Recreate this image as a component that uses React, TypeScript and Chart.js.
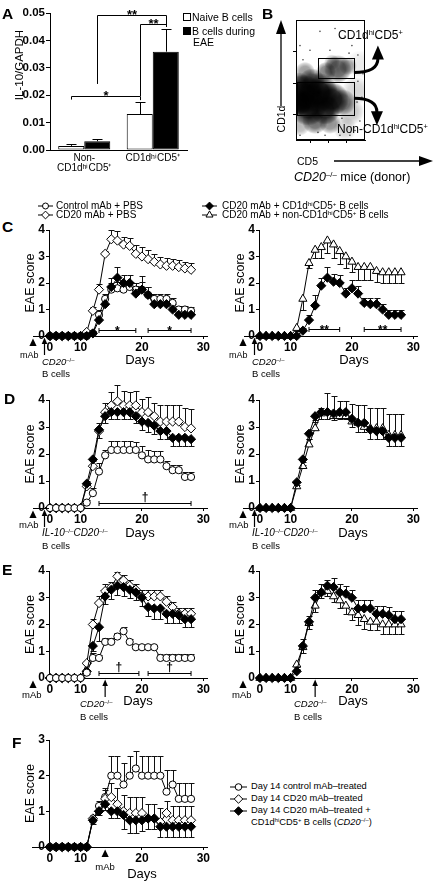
import React, { useEffect, useRef } from 'react';
import { Chart, registerables } from 'chart.js';

Chart.register(...registerables);

const FONT = '"Liberation Sans", Arial, Helvetica, sans-serif';

/* ===================== DATA ===================== */
// Panel A – IL-10/GAPDH
const A_CATEGORIES = [['Non-', 'CD1dʰⁱCD5⁺'], ['CD1dʰⁱCD5⁺']];
const A_SERIES_NAMES = ['Naive B cells', 'B cells during EAE'];
const A_NAIVE = [0.0015, 0.0131];
const A_NAIVE_ERR = [0.0007, 0.0046];
const A_EAE = [0.0032, 0.0359];
const A_EAE_ERR = [0.0007, 0.0081];
const A_Y_TICKS = [0, 0.01, 0.02, 0.03, 0.04, 0.05];
// brackets: [category, dataset] endpoints, bar level, leg ends
const A_BRACKETS = [
  { from: [0, 0], to: [1, 0], y: 0.0197, yFrom: 0.0184, yTo: 0.0182, label: '*' },
  { from: [1, 0], to: [1, 1], y: 0.046, yFrom: 0.0197, yTo: 0.0449, label: '**' },
  { from: [0, 1], to: [1, 1], y: 0.0493, yFrom: 0.0241, yTo: 0.0449, label: '**' },
];

// Panel B – flow cytometry (density blobs + sparse events, log-decade units)
const B_AXIS_TICKS = [1, 2, 3];
const B_DENSITY_X = [0.585, 1.41, 2.18, 0.86, 1.80, 0.42, 2.79, 1.25, 2.07, 0.37, 1.08, 2.51, 1.85, 3.06, 2.18, 0.70, 3.17, 3.50, 2.90, 3.72, 0.42];
const B_DENSITY_Y = [1.64, 1.70, 1.49, 1.22, 1.16, 1.40, 1.40, 0.80, 0.74, 2.00, 2.06, 2.45, 2.36, 2.54, 2.66, 2.36, 1.10, 1.76, 0.56, 2.60, 0.65];
const B_DENSITY_SPREAD = [20, 20, 17, 18, 15, 13, 13, 13, 11, 11, 13, 14, 10, 9, 8, 10, 14, 14, 12, 14, 10];
const B_DENSITY_LEVEL = [1.0, 1.0, 0.9, 0.95, 0.85, 0.9, 0.55, 0.6, 0.45, 0.6, 0.65, 0.65, 0.5, 0.35, 0.3, 0.4, 0.22, 0.16, 0.16, 0.08, 0.28];
const B_SPARSE_X = [3.61, 3.28, 2.90, 3.72, 3.45, 2.62, 1.80, 0.42, 3.83, 3.61, 3.12, 2.07, 0.97, 0.585, 3.56, 3.17, 1.41, 3.89, 2.73, 1.52, 0.42, 2.35];
const B_SPARSE_Y = [2.89, 3.19, 3.49, 0.80, 0.50, 0.35, 0.35, 0.35, 1.55, 2.06, 2.95, 3.04, 3.04, 2.74, 1.40, 0.35, 0.44, 2.30, 0.89, 3.64, 3.19, 3.73];
const B_GATE_HI = [1.41, 3.39, 2.15, 2.80]; // x1, x2, y1, y2
const B_GATE_NON = [0.25, 3.39, 0.98, 2.03];

// EAE time courses
const DAYS = [0, 2, 4, 6, 8, 10, 11, 12, 13, 14, 15, 16, 17, 18, 19, 20, 21, 22, 23, 24, 25, 26, 27, 28];
const X_TICK_DAYS = [0, 10, 20, 30];
const EAE_TICKS_4 = [0, 1, 2, 3, 4];
const EAE_TICKS_3 = [0, 1, 2, 3];

// C (left): CD20-/- B cells
const C1_CTRL = [0, 0, 0, 0, 0, 0, 0, 0.1, 0.8, 1.4, 1.75, 1.8, 1.75, 1.85, 1.75, 1.75, 1.55, 1.4, 1.4, 1.4, 1.25, 1.0, 1.0, 0.95];
const C1_CTRL_ERR = [0, 0, 0, 0, 0, 0, 0, 0.1, 0.2, 0.2, 0.25, 0.25, 0.2, 0.2, 0.25, 0.3, 0.3, 0.2, 0.2, 0.2, 0.2, 0.15, 0.15, 0.15];
const C1_PBS = [0, 0, 0, 0, 0, 0, 0.15, 0.95, 1.75, 3.1, 3.65, 3.6, 3.45, 3.4, 3.1, 3.0, 2.9, 2.8, 2.7, 2.65, 2.65, 2.6, 2.55, 2.5];
const C1_PBS_ERR = [0, 0, 0, 0, 0, 0, 0.05, 0.15, 0.2, 0.1, 0.35, 0.35, 0.3, 0.3, 0.35, 0.35, 0.35, 0.3, 0.3, 0.3, 0.25, 0.25, 0.25, 0.25];
const C1_HI = [0, 0, 0, 0, 0, 0, 0, 0.1, 0.6, 1.2, 1.85, 2.2, 2.0, 2.0, 1.6, 1.75, 1.55, 1.2, 1.2, 1.2, 1.0, 0.8, 0.8, 0.8];
const C1_HI_ERR = [0, 0, 0, 0, 0, 0, 0, 0.1, 0.15, 0.3, 0.35, 0.4, 0.3, 0.3, 0.3, 0.5, 0.3, 0.2, 0.25, 0.25, 0.2, 0.15, 0.15, 0.15];
const C1_BRACKETS = [{ from: 13, to: 19, y: 0.23, label: '*' }, { from: 21, to: 28, y: 0.23, label: '*' }];

// C (right)
const C2_NON = [0, 0, 0, 0, 0, 0, 0.3, 1.4, 2.75, 3.25, 3.35, 3.6, 3.45, 3.2, 3.0, 2.8, 2.6, 2.6, 2.6, 2.45, 2.4, 2.4, 2.4, 2.4];
const C2_NON_ERR = [0, 0, 0, 0, 0, 0, 0.1, 0.4, 0.2, 0.3, 0.4, 0.45, 0.5, 0.5, 0.45, 0.4, 0.5, 0.5, 0.5, 0.4, 0.4, 0.4, 0.4, 0.4];
const C2_HI = [0, 0, 0, 0, 0, 0, 0, 0.2, 0.6, 1.15, 1.9, 2.2, 2.05, 2.0, 1.6, 1.8, 1.6, 1.25, 1.2, 1.2, 1.0, 0.8, 0.8, 0.8];
const C2_HI_ERR = [0, 0, 0, 0, 0, 0, 0, 0.1, 0.2, 0.4, 0.3, 0.4, 0.3, 0.3, 0.2, 0.3, 0.3, 0.2, 0.25, 0.25, 0.2, 0.2, 0.2, 0.2];
const C2_BRACKETS = [{ from: 13, to: 18, y: 0.25, label: '**' }, { from: 22, to: 28, y: 0.25, label: '**' }];

// D (left): IL-10-/-CD20-/- B cells
const D1_CTRL = [0, 0, 0, 0, 0, 0, 0.2, 0.55, 1.35, 1.95, 2.15, 2.15, 2.15, 2.15, 2.15, 1.95, 1.8, 1.8, 1.8, 1.55, 1.4, 1.4, 1.15, 1.15];
const D1_CTRL_ERR = [0, 0, 0, 0, 0, 0, 0.1, 0.2, 0.3, 0.2, 0.35, 0.35, 0.35, 0.35, 0.3, 0.35, 0.35, 0.3, 0.3, 0.2, 0.2, 0.2, 0.2, 0.2];
const D1_PBS = [0, 0, 0, 0, 0, 0, 0.8, 1.55, 2.85, 3.55, 3.8, 3.95, 3.8, 3.8, 3.8, 3.55, 3.55, 3.4, 3.2, 3.2, 3.2, 3.2, 3.0, 2.95];
const D1_PBS_ERR = [0, 0, 0, 0, 0, 0, 0.2, 0.2, 0.3, 0.35, 0.5, 0.6, 0.55, 0.5, 0.55, 0.5, 0.55, 0.5, 0.6, 0.6, 0.6, 0.6, 0.7, 0.7];
const D1_HI = [0, 0, 0, 0, 0, 0, 0.9, 1.8, 2.9, 3.4, 3.55, 3.55, 3.55, 3.55, 3.4, 3.2, 3.15, 3.05, 2.85, 2.85, 2.6, 2.6, 2.6, 2.55];
const D1_HI_ERR = [0, 0, 0, 0, 0, 0, 0.1, 0.2, 0.3, 0.25, 0.25, 0.25, 0.25, 0.25, 0.25, 0.3, 0.35, 0.3, 0.3, 0.3, 0.3, 0.3, 0.3, 0.25];
const D1_BRACKETS = [{ from: 13, to: 28, y: 0.2, label: '†' }];

// D (right)
const D2_HI = [0, 0, 0, 0, 0, 0, 0.95, 1.8, 2.75, 3.4, 3.55, 3.55, 3.5, 3.55, 3.55, 3.3, 3.15, 3.15, 2.9, 2.85, 2.85, 2.6, 2.6, 2.6];
const D2_HI_ERR = [0, 0, 0, 0, 0, 0, 0.1, 0.2, 0.2, 0.2, 0.25, 0.25, 0.25, 0.25, 0.25, 0.3, 0.35, 0.35, 0.35, 0.3, 0.3, 0.3, 0.3, 0.3];
const D2_NON = [0, 0, 0, 0, 0, 0, 0.8, 1.55, 2.35, 2.95, 3.5, 3.55, 3.4, 3.4, 3.4, 3.2, 3.15, 3.0, 2.95, 2.95, 2.95, 2.7, 2.7, 2.7];
const D2_NON_ERR = [0, 0, 0, 0, 0, 0, 0.2, 0.15, 0.2, 0.3, 0.2, 0.7, 0.75, 0.55, 0.55, 0.65, 0.65, 0.8, 0.75, 0.75, 0.75, 0.8, 0.8, 0.8];

// E (left): transfer on day 14
const E1_PBS = [0, 0, 0, 0, 0, 0, 0.55, 2.0, 2.8, 3.25, 3.4, 3.8, 3.65, 3.45, 3.3, 3.05, 3.05, 3.05, 3.05, 2.85, 2.65, 2.4, 2.4, 2.4];
const E1_PBS_ERR = [0, 0, 0, 0, 0, 0, 0.1, 0.2, 0.25, 0.25, 0.2, 0.15, 0.2, 0.2, 0.2, 0.25, 0.25, 0.25, 0.25, 0.2, 0.2, 0.2, 0.2, 0.2];
const E1_HI = [0, 0, 0, 0, 0, 0, 0.25, 1.2, 1.9, 3.05, 3.3, 3.45, 3.4, 3.3, 3.2, 3.0, 2.65, 2.6, 2.6, 2.4, 2.4, 2.35, 2.2, 2.2];
const E1_HI_ERR = [0, 0, 0, 0, 0, 0, 0.1, 0.2, 0.5, 0.3, 0.35, 0.35, 0.35, 0.3, 0.3, 0.3, 0.35, 0.4, 0.4, 0.35, 0.35, 0.3, 0.3, 0.3];
const E1_CTRL = [0, 0, 0, 0, 0, 0, 0.2, 0.75, 0.75, 1.35, 1.35, 1.55, 1.75, 1.35, 1.15, 1.15, 1.15, 1.15, 0.75, 0.75, 0.75, 0.75, 0.75, 0.75];
const E1_CTRL_ERR = [0, 0, 0, 0, 0, 0, 0.1, 0.2, 0.1, 0.15, 0.15, 0.15, 0.15, 0.1, 0.1, 0.1, 0.1, 0.1, 0.15, 0.15, 0.15, 0.15, 0.15, 0.15];
const E1_BRACKETS = [{ from: 13, to: 19.5, y: 0.2, label: '†' }, { from: 21, to: 28, y: 0.2, label: '†' }];

// E (right)
const E2_HI = [0, 0, 0, 0, 0, 0, 0.25, 1.2, 2.1, 3.0, 3.2, 3.45, 3.4, 3.2, 3.15, 3.0, 2.6, 2.6, 2.6, 2.4, 2.4, 2.35, 2.2, 2.2];
const E2_HI_ERR = [0, 0, 0, 0, 0, 0, 0.1, 0.25, 0.2, 0.3, 0.3, 0.2, 0.35, 0.3, 0.3, 0.3, 0.3, 0.3, 0.3, 0.3, 0.3, 0.3, 0.3, 0.3];
const E2_NON = [0, 0, 0, 0, 0, 0, 0.5, 1.15, 2.05, 2.7, 3.2, 3.25, 3.05, 2.9, 2.7, 2.45, 2.35, 2.2, 2.1, 2.1, 2.0, 2.0, 2.0, 2.0];
const E2_NON_ERR = [0, 0, 0, 0, 0, 0, 0.1, 0.2, 0.2, 0.25, 0.2, 0.2, 0.2, 0.3, 0.3, 0.3, 0.35, 0.35, 0.3, 0.3, 0.35, 0.35, 0.35, 0.35];

// F: mAb on day 14
const F_CTRL = [0, 0, 0, 0, 0, 0, 0, 0.75, 1.15, 1.4, 2.0, 2.0, 1.75, 2.0, 2.2, 2.0, 2.0, 2.0, 2.0, 1.55, 1.75, 1.35, 1.35, 1.35];
const F_CTRL_ERR = [0, 0, 0, 0, 0, 0, 0, 0.1, 0.15, 0.25, 0.55, 0.55, 0.6, 0.55, 0.5, 0.55, 0.55, 0.55, 0.55, 0.6, 0.4, 0.45, 0.45, 0.45];
const F_CD20 = [0, 0, 0, 0, 0, 0, 0, 0.8, 1.0, 1.35, 1.4, 1.2, 1.0, 0.95, 0.95, 0.95, 0.8, 0.8, 0.7, 0.95, 0.75, 0.75, 0.75, 0.75];
const F_CD20_ERR = [0, 0, 0, 0, 0, 0, 0, 0.1, 0.1, 0.25, 0.4, 0.45, 0.45, 0.45, 0.45, 0.45, 0.4, 0.4, 0.4, 0.35, 0.4, 0.4, 0.4, 0.4];
const F_HI = [0, 0, 0, 0, 0, 0, 0, 0.75, 1.0, 1.2, 1.0, 1.0, 0.9, 0.75, 0.75, 0.75, 0.8, 0.8, 0.57, 0.57, 0.57, 0.57, 0.57, 0.57];
const F_HI_ERR = [0, 0, 0, 0, 0, 0, 0, 0.1, 0.1, 0.15, 0.2, 0.2, 0.4, 0.37, 0.37, 0.3, 0.3, 0.3, 0.28, 0.28, 0.28, 0.28, 0.28, 0.28];

/* ===================== HELPERS ===================== */
// the x axis of the time courses is compressed (half scale) from day 0 to day 10
const dayToAxis = (d: number) => (d <= 10 ? d / 2 : d - 5);

const MARKERS: any = {
  circle: { style: 'circle', r: 3.6, fill: '#fff' },
  diamond: { style: 'rectRot', r: 4.6, fill: '#fff' },
  filledDiamond: { style: 'rectRot', r: 4.6, fill: '#000' },
  triangle: { style: 'triangle', r: 4.7, fill: '#fff' },
};

const YW = 34, PT = 22, PR = 10, XH = 26;

function EaeChart({ area, yMax, yTicks, series, brackets = [], mAb, transfer, axisExt }: any) {
  const ref = useRef<HTMLCanvasElement>(null);
  const [aL, aT, aR, aB] = area;
  const W = aR - aL + YW + PR;
  const H = aB - aT + PT + XH;
  useEffect(() => {
    const extras = {
      id: 'eaeExtras',
      beforeDatasetsDraw(chart: any) {
        const { ctx } = chart;
        const ys = chart.scales.y;
        ctx.save();
        ctx.strokeStyle = '#111';
        ctx.lineWidth = 1;
        chart.data.datasets.forEach((ds: any, di: number) => {
          const meta = chart.getDatasetMeta(di);
          meta.data.forEach((pt: any, i: number) => {
            const e = ds.errs[i];
            if (!e) return;
            const y2 = Math.round(ys.getPixelForValue(ds.data[i].y + ds.errDir * e)) + 0.5;
            const x = Math.round(pt.x) + 0.5;
            ctx.beginPath();
            ctx.moveTo(x, pt.y);
            ctx.lineTo(x, y2);
            ctx.moveTo(x - 3, y2);
            ctx.lineTo(x + 3, y2);
            ctx.stroke();
          });
        });
        ctx.restore();
      },
      afterDraw(chart: any) {
        const { ctx, chartArea: ca } = chart;
        const xs = chart.scales.x;
        const ys = chart.scales.y;
        ctx.save();
        ctx.strokeStyle = '#000';
        ctx.fillStyle = '#000';
        ctx.lineWidth = 1;
        const by = Math.round(ca.bottom - 0.5) + 0.5;
        if (axisExt) {
          ctx.beginPath();
          ctx.moveTo(ca.left - axisExt, by);
          ctx.lineTo(ca.left, by);
          ctx.stroke();
        }
        ctx.font = `bold 12px ${FONT}`;
        ctx.textAlign = 'center';
        ctx.textBaseline = 'alphabetic';
        brackets.forEach((b: any) => {
          const x1 = xs.getPixelForValue(dayToAxis(b.from));
          const x2 = xs.getPixelForValue(dayToAxis(b.to));
          const y = Math.round(ys.getPixelForValue(b.y)) + 0.5;
          ctx.beginPath();
          ctx.moveTo(x1, y);
          ctx.lineTo(x2, y);
          ctx.moveTo(x1, y - 2.5);
          ctx.lineTo(x1, y + 2.5);
          ctx.moveTo(x2, y - 2.5);
          ctx.lineTo(x2, y + 2.5);
          ctx.stroke();
          const ty = b.label.indexOf('*') >= 0 ? y + 4 : y - 2.5;
          ctx.fillText(b.label, (x1 + x2) / 2, ty);
        });
        const bt = ca.bottom;
        if (mAb != null) {
          const mx = mAb === 'pre' ? ca.left - 16 : xs.getPixelForValue(dayToAxis(mAb));
          ctx.beginPath();
          ctx.moveTo(mx, bt + 2.5);
          ctx.lineTo(mx - 3.6, bt + 10);
          ctx.lineTo(mx + 3.6, bt + 10);
          ctx.closePath();
          ctx.fill();
        }
        if (transfer != null) {
          const tx = transfer === 'pre' ? ca.left - 4.5 : xs.getPixelForValue(dayToAxis(transfer));
          ctx.lineWidth = 1.2;
          ctx.beginPath();
          ctx.moveTo(tx, bt + 6);
          ctx.lineTo(tx, bt + 19);
          ctx.stroke();
          ctx.beginPath();
          ctx.moveTo(tx, bt + 1.5);
          ctx.lineTo(tx - 2.8, bt + 8);
          ctx.lineTo(tx + 2.8, bt + 8);
          ctx.closePath();
          ctx.fill();
        }
        ctx.restore();
      },
    };
    const datasets = series.map((s: any) => {
      const m = MARKERS[s.marker];
      return {
        label: s.label,
        data: DAYS.map((d, i) => ({ x: dayToAxis(d), y: s.values[i] })),
        errs: s.errs,
        errDir: s.dir,
        borderColor: '#000',
        borderWidth: 1,
        backgroundColor: m.fill,
        pointStyle: m.style,
        pointRadius: m.r,
        pointBackgroundColor: m.fill,
        pointBorderColor: '#000',
        pointBorderWidth: 1,
        tension: 0,
        clip: false,
      };
    });
    const tickFont = { family: FONT, size: 12, weight: 'bold' };
    const chart = new Chart(ref.current as any, {
      type: 'line',
      data: { datasets },
      options: {
        animation: false,
        responsive: false,
        maintainAspectRatio: false,
        events: [],
        layout: { padding: { top: PT, right: PR, left: 0, bottom: 0 } },
        plugins: { legend: { display: false }, tooltip: { enabled: false } },
        scales: {
          x: {
            type: 'linear',
            min: -0.15,
            max: 25.6,
            afterFit: (s: any) => { s.height = XH; },
            afterBuildTicks: (s: any) => { s.ticks = X_TICK_DAYS.map((d) => ({ value: dayToAxis(d) })); },
            ticks: {
              autoSkip: false,
              maxRotation: 0,
              padding: 1,
              color: '#000',
              font: tickFont,
              callback: (v: any) => {
                const d = X_TICK_DAYS.find((dd) => Math.abs(dayToAxis(dd) - v) < 1e-6);
                return d === undefined ? '' : String(d);
              },
            },
            grid: { drawOnChartArea: false, drawTicks: true, tickLength: 3, color: '#000' },
            border: { display: true, color: '#000', width: 1 },
          },
          y: {
            type: 'linear',
            min: 0,
            max: yMax,
            afterFit: (s: any) => { s.width = YW; },
            afterBuildTicks: (s: any) => { s.ticks = yTicks.map((v: number) => ({ value: v })); },
            ticks: { padding: 1, color: '#000', font: tickFont },
            grid: { drawOnChartArea: false, drawTicks: true, tickLength: 3, color: '#000' },
            border: { display: true, color: '#000', width: 1 },
            title: { display: true, text: 'EAE score', color: '#000', font: { family: FONT, size: 12.5 }, padding: { top: 8, bottom: 0 } },
          },
        },
      } as any,
      plugins: [extras],
    });
    return () => chart.destroy();
  }, []);
  return (
    <canvas
      ref={ref}
      width={W}
      height={H}
      style={{ position: 'absolute', left: aL - YW, top: aT - PT, width: W, height: H, display: 'block' }}
    />
  );
}

function BarChartA() {
  const ref = useRef<HTMLCanvasElement>(null);
  const L = 0, T = 0, W = 189, H = 175;
  useEffect(() => {
    const extras = {
      id: 'aExtras',
      afterDatasetsDraw(chart: any) {
        const { ctx } = chart;
        const ys = chart.scales.y;
        ctx.save();
        ctx.strokeStyle = '#000';
        ctx.fillStyle = '#000';
        ctx.lineWidth = 1;
        chart.data.datasets.forEach((ds: any, di: number) => {
          chart.getDatasetMeta(di).data.forEach((bar: any, i: number) => {
            const top = Math.round(ys.getPixelForValue(ds.data[i] + ds.errs[i])) + 0.5;
            const x = Math.round(bar.x) + 0.5;
            ctx.beginPath();
            ctx.moveTo(x, bar.y);
            ctx.lineTo(x, top);
            ctx.moveTo(x - 5, top);
            ctx.lineTo(x + 5, top);
            ctx.stroke();
          });
        });
        ctx.font = `bold 13px ${FONT}`;
        ctx.textAlign = 'center';
        ctx.textBaseline = 'alphabetic';
        A_BRACKETS.forEach((b) => {
          const x1 = Math.round(chart.getDatasetMeta(b.from[1]).data[b.from[0]].x) + 0.5;
          const x2 = Math.round(chart.getDatasetMeta(b.to[1]).data[b.to[0]].x) + 0.5;
          const y = Math.round(ys.getPixelForValue(b.y)) + 0.5;
          ctx.beginPath();
          ctx.moveTo(x1, ys.getPixelForValue(b.yFrom));
          ctx.lineTo(x1, y);
          ctx.lineTo(x2, y);
          ctx.lineTo(x2, ys.getPixelForValue(b.yTo));
          ctx.stroke();
          ctx.fillText(b.label, (x1 + x2) / 2, y + 3);
        });
        ctx.restore();
      },
    };
    const chart = new Chart(ref.current as any, {
      type: 'bar',
      data: {
        labels: A_CATEGORIES as any,
        datasets: [
          { label: A_SERIES_NAMES[0], data: A_NAIVE, errs: A_NAIVE_ERR, backgroundColor: '#fff', borderColor: '#000', borderWidth: 1, borderSkipped: false } as any,
          { label: A_SERIES_NAMES[1], data: A_EAE, errs: A_EAE_ERR, backgroundColor: '#000', borderColor: '#000', borderWidth: 1, borderSkipped: false } as any,
        ],
      },
      options: {
        animation: false,
        responsive: false,
        maintainAspectRatio: false,
        events: [],
        layout: { padding: { top: 13, right: 2, left: 0, bottom: 0 } },
        plugins: { legend: { display: false }, tooltip: { enabled: false } },
        datasets: { bar: { categoryPercentage: 0.76, barPercentage: 1 } },
        scales: {
          x: {
            afterFit: (s: any) => { s.height = 25; },
            grid: { display: false, drawTicks: false },
            border: { display: true, color: '#000', width: 1 },
            ticks: { autoSkip: false, maxRotation: 0, padding: 3, color: '#000', font: { family: FONT, size: 10, lineHeight: 1 } },
          },
          y: {
            min: 0,
            max: 0.05,
            afterFit: (s: any) => { s.width = 50; },
            afterBuildTicks: (s: any) => { s.ticks = A_Y_TICKS.map((v) => ({ value: v })); },
            ticks: { padding: 1, color: '#000', font: { family: FONT, size: 11.5, weight: 'bold' }, callback: (v: any) => Number(v).toFixed(2) },
            grid: { drawOnChartArea: false, drawTicks: true, tickLength: 4, color: '#000' },
            border: { display: true, color: '#000', width: 1 },
          },
        },
      } as any,
      plugins: [extras],
    });
    return () => chart.destroy();
  }, []);
  return <canvas ref={ref} width={W} height={H} style={{ position: 'absolute', left: L, top: T, width: W, height: H, display: 'block' }} />;
}

function FlowChartB() {
  const ref = useRef<HTMLCanvasElement>(null);
  const L = 265, T = 0, W = 174, H = 170;
  useEffect(() => {
    const extras = {
      id: 'bExtras',
      afterDatasetsDraw(chart: any) {
        const { ctx, chartArea: ca } = chart;
        const xs = chart.scales.x;
        const ys = chart.scales.y;
        ctx.save();
        ctx.strokeStyle = '#000';
        ctx.fillStyle = '#000';
        ctx.lineWidth = 1;
        ctx.strokeRect(Math.round(ca.left) + 0.5, Math.round(ca.top) + 0.5, Math.round(ca.right - ca.left) - 1, Math.round(ca.bottom - ca.top) - 1);
        [B_GATE_HI, B_GATE_NON].forEach((g) => {
          const x1 = Math.round(xs.getPixelForValue(g[0])) + 0.5;
          const x2 = Math.round(xs.getPixelForValue(g[1])) + 0.5;
          const y1 = Math.round(ys.getPixelForValue(g[3])) + 0.5;
          const y2 = Math.round(ys.getPixelForValue(g[2])) + 0.5;
          ctx.strokeRect(x1, y1, x2 - x1, y2 - y1);
        });
        // curved arrows from the gates
        const gx = xs.getPixelForValue(B_GATE_HI[1]);
        const gyB = ys.getPixelForValue(B_GATE_HI[2]);
        ctx.lineWidth = 3;
        ctx.beginPath();
        ctx.moveTo(gx, gyB - 6);
        ctx.quadraticCurveTo(gx + 24, gyB - 6, gx + 24, gyB - 20);
        ctx.stroke();
        ctx.beginPath();
        ctx.moveTo(gx + 24, gyB - 33);
        ctx.lineTo(gx + 18, gyB - 19);
        ctx.lineTo(gx + 30, gyB - 19);
        ctx.closePath();
        ctx.fill();
        const gx2 = xs.getPixelForValue(B_GATE_NON[1]);
        const gyT = ys.getPixelForValue(B_GATE_NON[3]);
        ctx.beginPath();
        ctx.moveTo(gx2, gyT + 16);
        ctx.quadraticCurveTo(gx2 + 23, gyT + 16, gx2 + 23, gyT + 30);
        ctx.stroke();
        ctx.beginPath();
        ctx.moveTo(gx2 + 23, gyT + 43);
        ctx.lineTo(gx2 + 17, gyT + 29);
        ctx.lineTo(gx2 + 29, gyT + 29);
        ctx.closePath();
        ctx.fill();
        // axis arrows
        ctx.lineWidth = 1.3;
        const ax = ca.left - 15;
        ctx.beginPath();
        ctx.moveTo(ax, ca.top + 86);
        ctx.lineTo(ax, ca.top + 10);
        ctx.stroke();
        ctx.beginPath();
        ctx.moveTo(ax, ca.top);
        ctx.lineTo(ax - 5, ca.top + 14);
        ctx.lineTo(ax + 5, ca.top + 14);
        ctx.closePath();
        ctx.fill();
        const ay = ca.bottom + 21;
        ctx.beginPath();
        ctx.moveTo(ca.left + 38, ay);
        ctx.lineTo(ca.right + 57, ay);
        ctx.stroke();
        ctx.beginPath();
        ctx.moveTo(ca.right + 68, ay);
        ctx.lineTo(ca.right + 54, ay - 5);
        ctx.lineTo(ca.right + 54, ay + 5);
        ctx.closePath();
        ctx.fill();
        ctx.restore();
      },
    };
    const blobFill = (c: any) => {
      const fallback = 'rgba(0,0,0,0.4)';
      const raw = c && c.raw;
      const chart = c && c.chart;
      if (!raw || !chart || !chart.scales || !chart.scales.x || !chart.scales.y) return fallback;
      const px = chart.scales.x.getPixelForValue(raw.x);
      const py = chart.scales.y.getPixelForValue(raw.y);
      const r = raw.r;
      const a = B_DENSITY_LEVEL[c.dataIndex];
      if (![px, py, r, a].every((v) => Number.isFinite(v)) || r <= 0) return fallback;
      const g = chart.ctx.createRadialGradient(px, py, 0, px, py, r);
      g.addColorStop(0, `rgba(0,0,0,${a})`);
      g.addColorStop(0.55, `rgba(0,0,0,${a * 0.85})`);
      g.addColorStop(0.85, `rgba(0,0,0,${a * 0.35})`);
      g.addColorStop(1, 'rgba(0,0,0,0)');
      return g;
    };
    const chart = new Chart(ref.current as any, {
      type: 'bubble',
      data: {
        datasets: [
          {
            label: 'B cells (density)',
            data: B_DENSITY_X.map((x, i) => ({ x, y: B_DENSITY_Y[i], r: B_DENSITY_SPREAD[i] })),
            borderWidth: 0,
            clip: 0,
            backgroundColor: blobFill,
          } as any,
          {
            label: 'B cells (sparse)',
            data: B_SPARSE_X.map((x, i) => ({ x, y: B_SPARSE_Y[i], r: 0.8 })),
            borderWidth: 0,
            clip: 0,
            backgroundColor: 'rgba(0,0,0,0.75)',
          } as any,
        ],
      },
      options: {
        animation: false,
        responsive: false,
        maintainAspectRatio: false,
        events: [],
        layout: { padding: { top: 13, right: 74, left: 0, bottom: 0 } },
        plugins: { legend: { display: false }, tooltip: { enabled: false } },
        scales: {
          x: {
            type: 'linear', min: 0.2, max: 4,
            afterFit: (s: any) => { s.height = 30; },
            afterBuildTicks: (s: any) => { s.ticks = B_AXIS_TICKS.map((v) => ({ value: v })); },
            ticks: { display: false },
            grid: { drawOnChartArea: false, drawTicks: true, tickLength: 3, color: '#000' },
            border: { display: true, color: '#000' },
          },
          y: {
            type: 'linear', min: 0.2, max: 4,
            afterFit: (s: any) => { s.width = 31; },
            afterBuildTicks: (s: any) => { s.ticks = B_AXIS_TICKS.map((v) => ({ value: v })); },
            ticks: { display: false },
            grid: { drawOnChartArea: false, drawTicks: true, tickLength: 3, color: '#000' },
            border: { display: true, color: '#000' },
          },
        },
      } as any,
      plugins: [extras],
    });
    return () => chart.destroy();
  }, []);
  return <canvas ref={ref} width={W} height={H} style={{ position: 'absolute', left: L, top: T, width: W, height: H, display: 'block' }} />;
}

/* ===================== TEXT HELPERS ===================== */
function Txt({ x, y, size = 10, bold = false, italic = false, anchor = 'start', rot = 0, children }: any) {
  const tx = anchor === 'middle' ? -50 : anchor === 'end' ? -100 : 0;
  return (
    <div
      style={{
        position: 'absolute', left: x, top: y, fontFamily: FONT, fontSize: size,
        fontWeight: bold ? 700 : 400, fontStyle: italic ? 'italic' : 'normal',
        lineHeight: 1, whiteSpace: 'nowrap', color: '#000',
        transform: rot ? `translate(-50%, -50%) rotate(${rot}deg)` : `translate(${tx}%, -50%)`,
      }}
    >
      {children}
    </div>
  );
}
const Sup = ({ children }: any) => <span style={{ fontSize: '0.62em', position: 'relative', top: '-0.5em' }}>{children}</span>;
const It = ({ children }: any) => <span style={{ fontStyle: 'italic' }}>{children}</span>;
const HiLabel = () => (<>CD1d<Sup>hi</Sup>CD5<Sup>+</Sup></>);
const KO = ({ g }: any) => (<><It>{g}</It><Sup>–/–</Sup></>);

function Mark({ x, y, w, kind, r = 3 }: any) {
  const c = w / 2, m = 6;
  let shape: any;
  if (kind === 'circle') shape = <circle cx={c} cy={m} r={r} fill="#fff" stroke="#000" strokeWidth={1} />;
  else if (kind === 'diamond' || kind === 'filledDiamond') {
    const d = r * 1.3;
    shape = <polygon points={`${c},${m - d} ${c + d},${m} ${c},${m + d} ${c - d},${m}`} fill={kind === 'diamond' ? '#fff' : '#000'} stroke="#000" strokeWidth={1} />;
  } else {
    const d = r * 1.35;
    shape = <polygon points={`${c},${m - d} ${c + d * 0.866},${m + d * 0.5} ${c - d * 0.866},${m + d * 0.5}`} fill="#fff" stroke="#000" strokeWidth={1} />;
  }
  return (
    <svg style={{ position: 'absolute', left: x, top: y - m, overflow: 'visible' }} width={w} height={12}>
      <line x1={0} y1={m} x2={w} y2={m} stroke="#000" strokeWidth={1} />
      {shape}
    </svg>
  );
}

/* ===================== PANEL LAYOUT ===================== */
const PANELS: any[] = [
  { key: 'C1', area: [49, 230, 207, 336], yMax: 4, yTicks: EAE_TICKS_4, mAb: 'pre', transfer: 'pre', axisExt: 16, brackets: C1_BRACKETS,
    series: [
      { label: 'CD20 mAb + CD1dhiCD5+ B cells', values: C1_HI, errs: C1_HI_ERR, dir: 1, marker: 'filledDiamond' },
      { label: 'Control mAb + PBS', values: C1_CTRL, errs: C1_CTRL_ERR, dir: 1, marker: 'circle' },
      { label: 'CD20 mAb + PBS', values: C1_PBS, errs: C1_PBS_ERR, dir: 1, marker: 'diamond' },
    ] },
  { key: 'C2', area: [259, 230, 417, 336], yMax: 4, yTicks: EAE_TICKS_4, mAb: 'pre', transfer: 'pre', axisExt: 15, brackets: C2_BRACKETS,
    series: [
      { label: 'CD20 mAb + CD1dhiCD5+ B cells', values: C2_HI, errs: C2_HI_ERR, dir: 1, marker: 'filledDiamond' },
      { label: 'CD20 mAb + non-CD1dhiCD5+ B cells', values: C2_NON, errs: C2_NON_ERR, dir: -1, marker: 'triangle' },
    ] },
  { key: 'D1', area: [49, 400, 207, 508], yMax: 4, yTicks: EAE_TICKS_4, mAb: 'pre', transfer: 'pre', axisExt: 16, brackets: D1_BRACKETS,
    series: [
      { label: 'Control mAb + PBS', values: D1_CTRL, errs: D1_CTRL_ERR, dir: 1, marker: 'circle' },
      { label: 'CD20 mAb + CD1dhiCD5+ B cells', values: D1_HI, errs: D1_HI_ERR, dir: -1, marker: 'filledDiamond' },
      { label: 'CD20 mAb + PBS', values: D1_PBS, errs: D1_PBS_ERR, dir: 1, marker: 'diamond' },
    ] },
  { key: 'D2', area: [259, 400, 417, 508], yMax: 4, yTicks: EAE_TICKS_4, mAb: 'pre', transfer: 'pre', axisExt: 16, brackets: [],
    series: [
      { label: 'CD20 mAb + CD1dhiCD5+ B cells', values: D2_HI, errs: D2_HI_ERR, dir: -1, marker: 'filledDiamond' },
      { label: 'CD20 mAb + non-CD1dhiCD5+ B cells', values: D2_NON, errs: D2_NON_ERR, dir: 1, marker: 'triangle' },
    ] },
  { key: 'E1', area: [49, 571, 207, 678], yMax: 4, yTicks: EAE_TICKS_4, mAb: 'pre', transfer: 14, axisExt: 0, brackets: E1_BRACKETS,
    series: [
      { label: 'Control mAb + PBS', values: E1_CTRL, errs: E1_CTRL_ERR, dir: 1, marker: 'circle' },
      { label: 'CD20 mAb + CD1dhiCD5+ B cells', values: E1_HI, errs: E1_HI_ERR, dir: -1, marker: 'filledDiamond' },
      { label: 'CD20 mAb + PBS', values: E1_PBS, errs: E1_PBS_ERR, dir: 1, marker: 'diamond' },
    ] },
  { key: 'E2', area: [259, 571, 417, 678], yMax: 4, yTicks: EAE_TICKS_4, mAb: 'pre', transfer: 14, axisExt: 0, brackets: [],
    series: [
      { label: 'CD20 mAb + CD1dhiCD5+ B cells', values: E2_HI, errs: E2_HI_ERR, dir: 1, marker: 'filledDiamond' },
      { label: 'CD20 mAb + non-CD1dhiCD5+ B cells', values: E2_NON, errs: E2_NON_ERR, dir: -1, marker: 'triangle' },
    ] },
  { key: 'F', area: [49, 740, 207, 847], yMax: 3, yTicks: EAE_TICKS_3, mAb: 14, transfer: null, axisExt: 17, brackets: [],
    series: [
      { label: 'Day 14 CD20 mAb-treated + CD1dhiCD5+ B cells', values: F_HI, errs: F_HI_ERR, dir: -1, marker: 'filledDiamond' },
      { label: 'Day 14 CD20 mAb-treated', values: F_CD20, errs: F_CD20_ERR, dir: 1, marker: 'diamond' },
      { label: 'Day 14 control mAb-treated', values: F_CTRL, errs: F_CTRL_ERR, dir: 1, marker: 'circle' },
    ] },
];

export default function App() {
  return (
    <div style={{ position: 'absolute', left: 0, top: 0, width: 439, height: 889, background: '#fff', overflow: 'hidden' }}>
      <BarChartA />
      <FlowChartB />
      {PANELS.map((p) => (
        <EaeChart key={p.key} area={p.area} yMax={p.yMax} yTicks={p.yTicks} series={p.series} brackets={p.brackets} mAb={p.mAb} transfer={p.transfer} axisExt={p.axisExt} />
      ))}

      {/* panel letters */}
      <Txt x={2} y={14} size={15.5} bold>A</Txt>
      <Txt x={262} y={14} size={15.5} bold>B</Txt>
      <Txt x={2} y={227} size={15.5} bold>C</Txt>
      <Txt x={4} y={399} size={15.5} bold>D</Txt>
      <Txt x={2} y={570} size={15.5} bold>E</Txt>
      <Txt x={12} y={743} size={15.5} bold>F</Txt>

      {/* A */}
      <Txt x={20} y={65} size={11.5} rot={-90}>IL-10/GAPDH</Txt>
      <div style={{ position: 'absolute', left: 183, top: 13, width: 8, height: 8, border: '1px solid #000', background: '#fff', boxSizing: 'border-box' }} />
      <div style={{ position: 'absolute', left: 183, top: 27, width: 8, height: 8, background: '#000' }} />
      <Txt x={192} y={17} size={10.5}>Naive B cells</Txt>
      <Txt x={192} y={30.5} size={10.5}>B cells during</Txt>
      <Txt x={193} y={42} size={10.5}>EAE</Txt>

      {/* B */}
      <Txt x={338} y={35} size={12}><HiLabel /></Txt>
      <Txt x={337} y={129} size={12}>Non-<HiLabel /></Txt>
      <Txt x={281} y={119} size={10.5} rot={-90}>CD1d</Txt>
      <Txt x={297} y={161} size={10.5}>CD5</Txt>
      <Txt x={294} y={177} size={12.5}><KO g="CD20" /> mice (donor)</Txt>

      {/* C legend */}
      <Mark x={38} y={206} w={15} kind="circle" />
      <Txt x={56} y={206} size={10}>Control mAb + PBS</Txt>
      <Mark x={38} y={215} w={15} kind="diamond" />
      <Txt x={56} y={215} size={10}>CD20 mAb + PBS</Txt>
      <Mark x={202} y={206} w={15} kind="filledDiamond" />
      <Txt x={222} y={206} size={10}>CD20 mAb + <HiLabel /> B cells</Txt>
      <Mark x={202} y={215} w={15} kind="triangle" />
      <Txt x={222} y={215} size={10}>CD20 mAb + non-<HiLabel /> B cells</Txt>

      {/* C annotations */}
      <Txt x={20} y={355} size={9}>mAb</Txt>
      <Txt x={42} y={362} size={9.5}><KO g="CD20" /></Txt>
      <Txt x={42} y={374} size={9.5}>B cells</Txt>
      <Txt x={140} y={359} size={13} anchor="middle">Days</Txt>
      <Txt x={229} y={355} size={9}>mAb</Txt>
      <Txt x={252} y={362} size={9.5}><KO g="CD20" /></Txt>
      <Txt x={252} y={374} size={9.5}>B cells</Txt>
      <Txt x={354} y={359} size={13} anchor="middle">Days</Txt>

      {/* D annotations */}
      <Txt x={19} y={525} size={9.5}>mAb</Txt>
      <Txt x={42} y={533} size={10}><KO g="IL-10" /><KO g="CD20" /></Txt>
      <Txt x={42} y={546} size={9.5}>B cells</Txt>
      <Txt x={140} y={532} size={13} anchor="middle">Days</Txt>
      <Txt x={229} y={525} size={9.5}>mAb</Txt>
      <Txt x={252} y={533} size={10}><KO g="IL-10" /><KO g="CD20" /></Txt>
      <Txt x={252} y={546} size={9.5}>B cells</Txt>
      <Txt x={353} y={532} size={13} anchor="middle">Days</Txt>

      {/* E annotations */}
      <Txt x={22} y={695} size={9.5}>mAb</Txt>
      <Txt x={80} y={704} size={9.5}><KO g="CD20" /></Txt>
      <Txt x={80} y={717} size={9.5}>B cells</Txt>
      <Txt x={138} y={700} size={13} anchor="middle">Days</Txt>
      <Txt x={232} y={695} size={9.5}>mAb</Txt>
      <Txt x={294} y={704} size={9.5}><KO g="CD20" /></Txt>
      <Txt x={294} y={717} size={9.5}>B cells</Txt>
      <Txt x={353} y={700} size={13} anchor="middle">Days</Txt>

      {/* F annotations + legend */}
      <Txt x={105} y={867} size={9.5} anchor="middle">mAb</Txt>
      <Txt x={142} y={873} size={13} anchor="middle">Days</Txt>
      <Mark x={230} y={787} w={17} kind="circle" r={3.3} />
      <Txt x={251} y={787} size={9.3}>Day 14 control mAb–treated</Txt>
      <Mark x={230} y={799} w={17} kind="diamond" r={3.3} />
      <Txt x={251} y={799} size={9.3}>Day 14 CD20 mAb–treated</Txt>
      <Mark x={230} y={811} w={17} kind="filledDiamond" r={3.3} />
      <Txt x={251} y={811} size={9.3}>Day 14 CD20 mAb–treated +</Txt>
      <Txt x={251} y={823} size={9.3}><HiLabel /> B cells (<KO g="CD20" />)</Txt>
    </div>
  );
}
